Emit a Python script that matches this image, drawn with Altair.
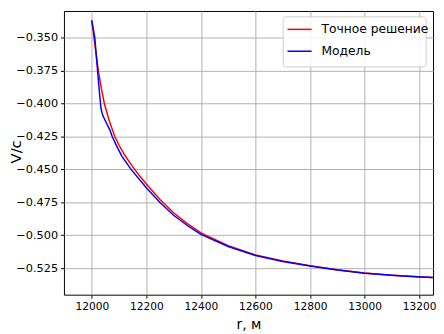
import altair as alt
import pandas as pd

# Exact solution (red)
r_exact = [12000, 12008, 12016, 12024, 12035, 12046, 12065, 12084, 12100, 12120,
           12140, 12156, 12175, 12200, 12250, 12300, 12350, 12400, 12500, 12600,
           12700, 12800, 12900, 13000, 13100, 13200, 13250]
v_exact = [-0.337, -0.350, -0.3625, -0.375, -0.3885, -0.400, -0.4137, -0.4249, -0.4317, -0.4389,
           -0.4451, -0.4496, -0.4548, -0.4611, -0.4729, -0.4829, -0.4911, -0.4982, -0.5079, -0.5149,
           -0.5196, -0.5232, -0.5262, -0.5286, -0.5303, -0.5315, -0.5320]

# Model (blue)
r_model = [12000, 12011, 12022, 12030, 12034, 12040, 12054, 12066, 12075, 12090,
           12110, 12144, 12200, 12250, 12300, 12350, 12400, 12500, 12600, 12700,
           12800, 12900, 13000, 13100, 13200, 13250]
v_model = [-0.337, -0.350, -0.377, -0.396, -0.404, -0.409, -0.415, -0.420, -0.425, -0.4318,
           -0.440, -0.450, -0.464, -0.4752, -0.4848, -0.4926, -0.4993, -0.5085, -0.5153, -0.5199,
           -0.5234, -0.5264, -0.5288, -0.5304, -0.5316, -0.5321]

series_names = ["Точное решение", "Модель"]
series_colors = ["#ff0000", "#0000ff"]
x_ticks = [12000, 12200, 12400, 12600, 12800, 13000, 13200]
y_ticks = [-0.350, -0.375, -0.400, -0.425, -0.450, -0.475, -0.500, -0.525]

df_exact = pd.DataFrame({"r": r_exact, "v": v_exact, "s": series_names[0]})
df_model = pd.DataFrame({"r": r_model, "v": v_model, "s": series_names[1]})

FONT = "DejaVu Sans"

x_enc = alt.X("r:Q",
              scale=alt.Scale(domain=[11898, 13251], nice=False, zero=False),
              axis=alt.Axis(values=x_ticks, format="d", title="r, м",
                            labelFont=FONT, titleFont=FONT, labelFontSize=10.8,
                            titlePadding=6, titleFontSize=14))
y_enc = alt.Y("v:Q",
              scale=alt.Scale(domain=[-0.5451, -0.3298], nice=False, zero=False),
              axis=alt.Axis(values=y_ticks, title="V/c",
                            labelFont=FONT, titleFont=FONT, labelFontSize=11.5,
                            labelExpr="'\u2212' + format(abs(datum.value), '.3f')",
                            titleX=-49.5, titleY=143, titleAngle=270,
                            titleAlign="center", titleBaseline="middle",
                            titleFontSize=15))
color_enc = alt.Color("s:N",
                      scale=alt.Scale(domain=series_names, range=series_colors),
                      legend=None)

red = alt.Chart(df_exact).mark_line(strokeWidth=1.5, clip=True).encode(
    x=x_enc, y=y_enc, color=color_enc)
blue = alt.Chart(df_model).mark_line(strokeWidth=1.5, clip=True).encode(
    x=x_enc, y=y_enc, color=color_enc)

# legend (box, line samples, labels)
leg_box = alt.Chart(pd.DataFrame({"k": [0]})).mark_rect(
    fill="white", fillOpacity=0.85, stroke="#cccccc", strokeWidth=1, cornerRadius=3
).encode(x=alt.value(223.3), x2=alt.value(369), y=alt.value(6), y2=alt.value(57))

leg_rows = [18.7, 41.0]
leg_layers = []
for name, col, yy in zip(series_names, series_colors, leg_rows):
    d = pd.DataFrame({"s": [name]})
    leg_layers.append(
        alt.Chart(d).mark_rule(color=col, strokeWidth=1.5).encode(
            x=alt.value(227.7), x2=alt.value(252.3), y=alt.value(yy)))
    leg_layers.append(
        alt.Chart(d).mark_text(align="left", baseline="middle", font=FONT,
                               fontSize=12.5, color="black").encode(
            x=alt.value(262.3), y=alt.value(yy), text="s:N"))

chart = alt.layer(red, blue, leg_box, *leg_layers).properties(
    width=376, height=289,
    autosize=alt.AutoSizeParams(type="none"),
    padding={"left": 57, "top": 0, "right": 3, "bottom": 37},
).configure(
    font=FONT
).configure_view(
    stroke="black", strokeWidth=1
).configure_axis(
    domain=False, grid=True, gridColor="#b0b0b0", gridWidth=1,
    tickColor="black", tickSize=3.5, tickWidth=1,
    labelFont=FONT, labelColor="black", labelPadding=3,
    titleFont=FONT, titleFontWeight="normal", titleColor="black"
)

chart.save("out.html", embed_options={"renderer": "svg", "actions": False})
